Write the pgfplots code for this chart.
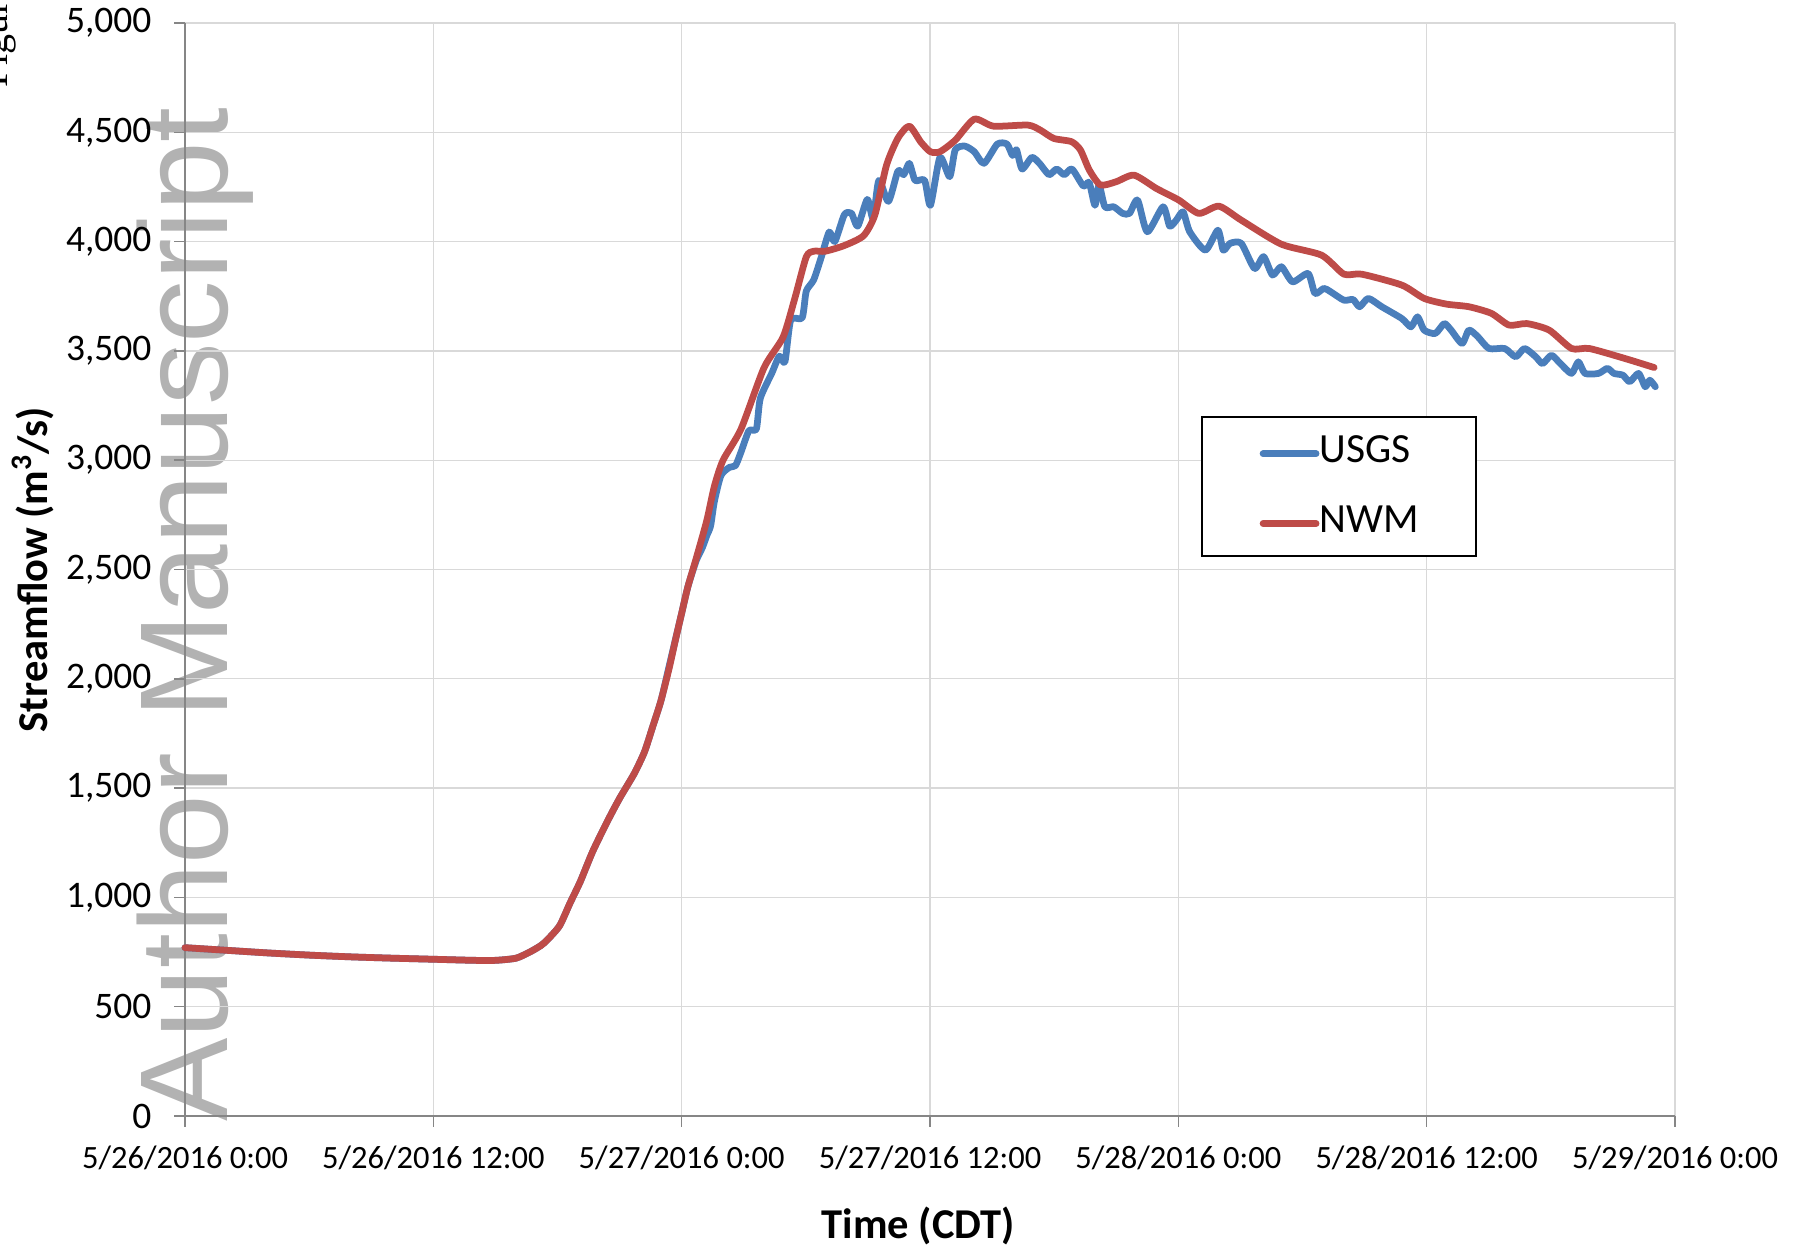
\documentclass[border=0pt]{standalone}
\usepackage{fontspec}
\setmainfont{Carlito}
\newfontfamily\wmfont{Liberation Sans}
\newfontfamily\figfont{Liberation Serif}
\usepackage{pgfplots}
\usepackage{pgfplotstable}
\pgfplotsset{compat=1.18}
\definecolor{usgs}{HTML}{4A7EBB}
\definecolor{nwm}{HTML}{BE4B48}
\definecolor{gridc}{HTML}{D9D9D9}
\definecolor{axc}{HTML}{868686}

\pgfplotstableread{
h v
0 770
2 758
4 746
6 736
8 728
10 722
12 717
14 712
15 712
16 722
16.7 752
17.2 780
17.5 805
18.1 870
18.6 973
19.1 1072
19.7 1210
20.4 1346
21.0 1453
21.7 1565
22.2 1665
22.6 1781
23.0 1900
23.4 2050
23.7 2178
24.0 2300
24.3 2421
24.7 2550
25.21 2723
25.58 2881
26.0 3000
26.87 3143
27.98 3423
28.9 3563
29.46 3738
30.02 3930
30.38 3956
30.94 3956
31.86 3982
32.79 4027
33.34 4123
33.9 4350
34.45 4473
35.0 4528
35.56 4455
36.02 4411
36.48 4411
37.22 4464
38.14 4560
39.07 4528
40.73 4533
41.33 4510
41.98 4472
42.84 4457
43.27 4419
43.7 4327
44.24 4259
45.0 4274
45.86 4304
46.94 4243
48.02 4190
48.99 4129
49.96 4162
51.04 4098
52.98 3988
54.92 3938
56.0 3851
56.86 3851
58.8 3801
59.88 3740
60.96 3714
62.04 3702
63.12 3672
63.98 3618
64.84 3625
65.92 3595
67.0 3511
67.86 3511
69.59 3465
70.99 3424
}\nwmtable

\pgfplotstableread{
h v
0 770
2 758
4 746
6 736
8 728
10 722
12 717
14 712
15 712
16 722
16.7 752
17.2 780
17.5 805
18.1 870
18.6 973
19.1 1072
19.7 1210
20.4 1346
21.0 1453
21.7 1565
22.2 1665
22.6 1781
23.0 1900
23.4 2060
23.7 2180
24.0 2300
24.3 2421
24.7 2540
25.0 2600
25.21 2654
25.4 2700
25.58 2811
25.9 2930
26.32 2968
26.6 2975
26.87 3038
27.25 3135
27.61 3143
27.8 3283
28.35 3397
28.72 3476
28.99 3450
29.27 3641
29.82 3651
30.02 3773
30.38 3825
30.75 3930
31.13 4044
31.4 4000
31.86 4123
32.2 4130
32.51 4071
32.97 4193
33.25 4106
33.53 4280
33.99 4184
34.45 4323
34.73 4306
35.0 4358
35.28 4280
35.74 4280
36.02 4166
36.48 4385
36.95 4297
37.22 4420
37.68 4437
38.14 4411
38.61 4358
39.25 4446
39.72 4446
39.99 4394
40.18 4420
40.45 4332
40.92 4385
41.29 4358
41.75 4306
42.12 4332
42.49 4306
42.86 4332
43.41 4254
43.69 4271
43.97 4166
44.17 4259
44.45 4159
44.88 4159
45.31 4129
45.64 4129
46.03 4190
46.5 4045
47.26 4159
47.58 4071
47.9 4098
48.23 4136
48.55 4045
49.31 3961
49.91 4052
50.17 3961
50.5 3992
51.04 3992
51.68 3877
52.12 3931
52.55 3847
52.98 3885
53.52 3816
54.27 3854
54.6 3763
55.03 3786
55.35 3771
56.0 3732
56.44 3735
56.76 3702
57.18 3740
57.83 3702
58.8 3648
59.24 3610
59.56 3656
59.88 3595
60.42 3580
60.85 3625
61.18 3595
61.71 3534
62.04 3595
62.47 3565
63.01 3511
63.77 3511
64.3 3473
64.73 3511
65.27 3473
65.6 3442
66.03 3480
66.46 3442
67.0 3397
67.33 3450
67.65 3397
68.3 3397
68.73 3420
69.05 3397
69.48 3389
69.81 3359
70.24 3397
70.56 3336
70.78 3366
71.05 3336
}\usgstable

\begin{document}
\begin{tikzpicture}
\path[use as bounding box] (0,0) rectangle (719.6pt,500pt);
\node[rotate=90,anchor=base west,inner sep=0pt,text=gray!60,font=\wmfont\fontsize{50}{50}\selectfont] at (90.8pt,51.2pt) {Author Manuscript};
\node[rotate=90,anchor=base west,inner sep=0pt,text=black,font=\figfont\fontsize{16}{16}\selectfont] at (3.2pt,464.8pt) {Figure};
\begin{axis}[
  at={(74pt,53.6pt)}, anchor=south west,
  scale only axis, width=596pt, height=437.2pt,
  xmin=0, xmax=72, ymin=0, ymax=5000,
  axis x line=bottom, axis y line=left,
  axis line style={-, draw=axc, line width=0.6pt},
  xtick={0,12,24,36,48,60,72},
  xticklabels={5/26/2016 0:00,5/26/2016 12:00,5/27/2016 0:00,5/27/2016 12:00,5/28/2016 0:00,5/28/2016 12:00,5/29/2016 0:00},
  ytick={0,500,1000,1500,2000,2500,3000,3500,4000,4500,5000},
  grid=major, major grid style={draw=gridc, line width=0.5pt},
  tick align=outside, major tick length=4.4pt,
  tick style={draw=axc, line width=0.6pt},
  scaled y ticks=false,
  yticklabel style={/pgf/number format/fixed, /pgf/number format/1000 sep={,}, /pgf/number format/assume math mode=true, font=\fontsize{15}{17}\selectfont, xshift=-5.5pt},
  xticklabel style={font=\fontsize{13}{15}\selectfont, yshift=-4pt},
  clip=false,
  xlabel={Time (CDT)},
  ylabel={Streamflow (m\textsuperscript{3}/s)},
  label style={font=\bfseries\fontsize{17}{20}\selectfont},
  xlabel style={at={(axis description cs:0.4923,-0.1125)}, anchor=base},
  ylabel style={at={(axis description cs:-0.0926,0.5)}, anchor=base},
  legend style={at={(0.682,0.6404)}, anchor=north west, draw=black, line width=0.8pt, fill=white,
    inner xsep=23pt, inner ysep=6.7pt, row sep=13.7pt, font=\fontsize{16.6}{18}\selectfont,
    nodes={inner sep=0pt, text height=11.5pt, text depth=2.7pt}},
  legend cell align=left,
  legend image code/.code={\draw[#1, line width=2.7pt, line cap=round] (0pt,-0.9pt) -- (21.2pt,-0.9pt);},
  every even column/.append style={column sep=2.4pt},
]
\addplot[usgs, line width=2.7pt, smooth, tension=0.4, line join=round, line cap=round] table[x=h,y=v] {\usgstable};
\addlegendentry{USGS}
\addplot[nwm, line width=2.7pt, smooth, tension=0.4, line join=round, line cap=round] table[x=h,y=v] {\nwmtable};
\addlegendentry{NWM}
\end{axis}
\end{tikzpicture}
\end{document}
